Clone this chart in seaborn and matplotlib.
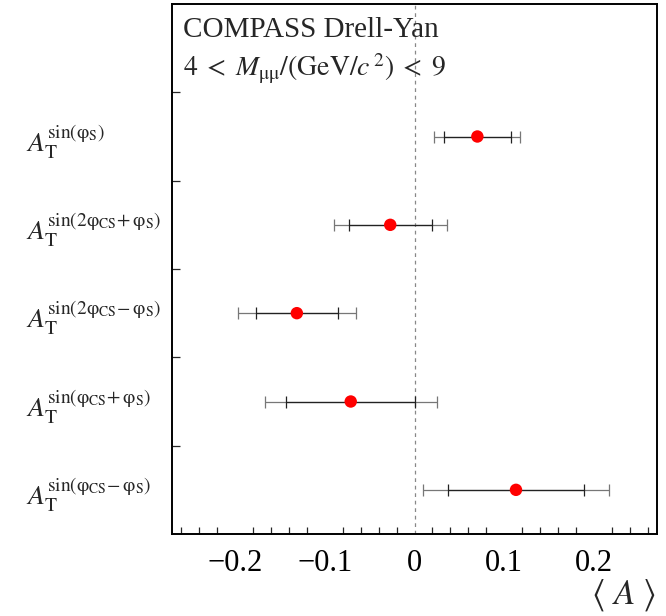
import matplotlib
matplotlib.use("Agg")
import matplotlib.pyplot as plt
from matplotlib.ticker import MultipleLocator
import seaborn as sns
import pandas as pd

# ---- data ----
labels = [
    r"$A_{\mathrm{T}}^{\mathrm{sin(\varphi_{S})}}$",
    r"$A_{\mathrm{T}}^{\mathrm{sin(2\varphi_{CS}\!+\varphi_{S})}}$",
    r"$A_{\mathrm{T}}^{\mathrm{sin(2\varphi_{CS}\!-\varphi_{S})}}$",
    r"$A_{\mathrm{T}}^{\mathrm{sin(\varphi_{CS}\!+\varphi_{S})}}$",
    r"$A_{\mathrm{T}}^{\mathrm{sin(\varphi_{CS}\!-\varphi_{S})}}$",
]
values = [0.070, -0.027, -0.131, -0.071, 0.113]
stat_err = [0.037, 0.046, 0.046, 0.072, 0.076]
tot_err = [0.048, 0.063, 0.066, 0.096, 0.104]
xticks = [-0.2, -0.1, 0.0, 0.1, 0.2]
xticklabels = ["\u22120.2", "\u22120.1", "0", "0.1", "0.2"]

sns.set_theme(style="white")
plt.rcParams["font.family"] = ["Liberation Serif", "DejaVu Serif"]
plt.rcParams["mathtext.fontset"] = "stix"

n = len(labels)
df = pd.DataFrame({"label": labels, "value": values, "stat": stat_err, "tot": tot_err})
df["pos"] = [n - 0.5 - i for i in range(n)]

fig = plt.figure(figsize=(6.66, 6.16), dpi=100)
W, H = 666, 616
ax = fig.add_axes([172 / W, (H - 534) / H, (657 - 172) / W, (534 - 4) / H])

ax.axvline(0, color="#888888", lw=0.9, ls=(0, (3, 3)), zorder=1)

# total errors (outer, lighter)
ax.errorbar(df["value"], df["pos"], xerr=df["tot"], fmt="none", ecolor="#777777",
            elinewidth=0.9, capsize=4.5, capthick=0.9, zorder=2)
# stat errors (inner, darker)
ax.errorbar(df["value"], df["pos"], xerr=df["stat"], fmt="none", ecolor="#222222",
            elinewidth=0.9, capsize=4.5, capthick=0.9, zorder=3)
sns.scatterplot(data=df, x="value", y="pos", color="#ff0000", s=80, edgecolor="none",
                ax=ax, zorder=4, legend=False)

ax.set_xlim(-0.27, 0.27)
ax.set_ylim(0, n + 1)
ax.set_xlabel("")
ax.set_ylabel("")

ax.set_xticks(xticks, xticklabels)
ax.xaxis.set_minor_locator(MultipleLocator(0.02))
ax.tick_params(axis="x", which="major", direction="in", length=10, width=0.9,
               labelsize=22, pad=11, colors="black")
ax.tick_params(axis="x", which="minor", direction="in", length=5, width=0.9, bottom=True)

ax.set_yticks(df["pos"], df["label"])
ax.set_yticks([1, 2, 3, 4, 5], minor=True)
ax.tick_params(axis="y", which="major", length=0, labelsize=20, pad=105)
ax.tick_params(axis="y", which="minor", direction="in", length=6, width=0.9, left=True)
for t in ax.get_yticklabels():
    t.set_horizontalalignment("left")
    t.set_y(t.get_position()[1])

for s in ax.spines.values():
    s.set_color("black")
    s.set_linewidth(1.4)

ax.text(183 / W, 1 - 37 / H, "COMPASS Drell-Yan", transform=fig.transFigure,
        fontsize=21, ha="left", va="baseline")
ax.text(183 / W, 1 - 76 / H,
        r"$4\;<\;M_{\mathrm{\mu\mu}}/(\mathrm{GeV}/c^{\,2})\;<\;9$",
        transform=fig.transFigure, fontsize=20, ha="left", va="baseline")

fig.text(656 / W, 1 - 613 / H, r"$\langle\ A\ \rangle$", fontsize=25, ha="right", va="bottom")

fig.savefig("out.png", dpi=100, facecolor="white")
